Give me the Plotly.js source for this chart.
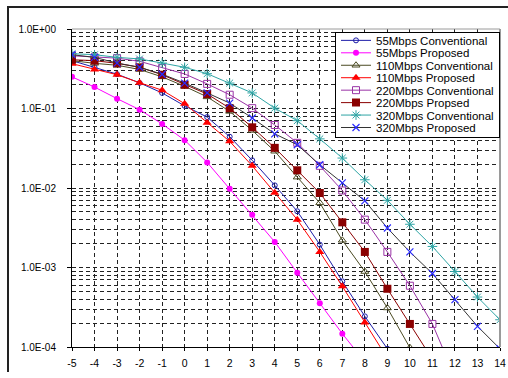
<!DOCTYPE html>
<html>
<head>
<meta charset="utf-8">
<script src="https://cdn.plot.ly/plotly-3.0.1.min.js"></script>
<style>
html,body{margin:0;padding:0;background:#fff;overflow:hidden;}
#wrap{position:relative;width:508px;height:378px;}
#chart{width:508px;height:378px;}
#frame{position:absolute;left:7px;top:6px;width:501px;height:364px;border-top:2px solid #222;border-left:2px solid #222;pointer-events:none;}
</style>
</head>
<body>
<div id="wrap"><div id="chart"></div><div id="frame"></div></div>
<script>
// SNR (dB) axis
var snr = [-5,-4,-3,-2,-1,0,1,2,3,4,5,6,7,8,9,10,11,12,13,14];
var snrLabels = ["-5","-4","-3","-2","-1","0","1","2","3","4","5","6","7","8","9","10","11","12","13","14"];

// Error rate per series
var s55c  = [0.40,0.33,0.27,0.21,0.157,0.108,0.078,0.0442,0.0223,0.0108,0.0051,0.00194,6.7e-4,2.43e-4,9.5e-5];
var s55p  = [0.25,0.186,0.133,0.0966,0.064,0.040,0.021,0.0098,0.0046,0.0021,8.6e-4,3.56e-4,1.47e-4,6.5e-5];
var s110c = [0.40,0.37,0.35,0.31,0.25,0.19,0.14,0.092,0.053,0.029,0.0137,0.0065,0.0022,8.9e-4,3.1e-4,9.8e-5];
var s110p = [0.366,0.31,0.266,0.211,0.17,0.115,0.066,0.0386,0.019,0.0087,0.004,0.00157,5.8e-4,2.04e-4,7.2e-5];
var s220c = [0.46,0.44,0.43,0.392,0.323,0.272,0.204,0.149,0.101,0.062,0.037,0.019,0.0093,0.0040,0.00157,5.9e-4,1.95e-4,4.2e-5];
var s220p = [0.41,0.40,0.37,0.33,0.266,0.199,0.152,0.101,0.058,0.032,0.0167,0.00865,0.0037,0.00157,5.4e-4,1.95e-4,7e-5];
var s320c = [0.489,0.475,0.44,0.42,0.373,0.33,0.274,0.209,0.157,0.101,0.0703,0.0415,0.0238,0.0127,0.007,0.0035,0.00184,8.9e-4,4.25e-4,2.2e-4];
var s320p = [0.475,0.44,0.373,0.33,0.27,0.209,0.157,0.117,0.076,0.048,0.035,0.0196,0.0116,0.0069,0.00314,0.00157,8.4e-4,3.94e-4,1.82e-4,9.5e-5];

var names = ["55Mbps Conventional","55Mbps Proposed","110Mbps Conventional","110Mbps Proposed",
             "220Mbps Conventional","220Mbps Propsed","320Mbps Conventional","320Mbps Proposed"];

var yTickVals = [1, 0.1, 0.01, 0.001, 0.0001];
var yTickText = ["1.0E+00","1.0E-01","1.0E-02","1.0E-03","1.0E-04"];

function tr(vals, name, lineColor, sym, size, mColor, mLineW){
  return {
    x: snr.slice(0, vals.length), y: vals, name: name, type: 'scatter', mode: 'lines+markers',
    line: {color: lineColor, width: 1},
    marker: {symbol: sym, size: size, color: mColor, line: {color: mColor, width: mLineW}}
  };
}

var traces = [
  tr(s55c,  names[0], '#1c1ca8', 'circle-open', 5, '#1c1ca8', 1),
  tr(s55p,  names[1], '#ff00ff', 'circle', 6, '#ff00ff', 0),
  tr(s110c, names[2], '#4a4a22', 'triangle-up-open', 7, '#4a4a22', 1),
  tr(s110p, names[3], '#ff0000', 'triangle-up', 8, '#ff0000', 0),
  tr(s220c, names[4], '#9a33a6', 'square-open', 7, '#9a33a6', 1),
  tr(s220p, names[5], '#8b0000', 'square', 8, '#8b0000', 0),
  tr(s320c, names[6], '#2fa5a5', 'asterisk-open', 8, '#2fa5a5', 1),
  tr(s320p, names[7], '#333333', 'x-thin-open', 7, '#2a2aff', 1.2)
];

var minorVals = [];
for (var e = -4; e < 0; e++) for (var m = 2; m <= 9; m++) minorVals.push(m * Math.pow(10, e));

var dash = '4px,3px';
var layout = {
  width: 508, height: 378,
  margin: {l: 72, r: 7.5, t: 29.3, b: 30.5},
  paper_bgcolor: 'rgba(0,0,0,0)', plot_bgcolor: '#fff',
  font: {family: 'Liberation Sans, Arial, sans-serif', size: 10, color: '#000'},
  showlegend: true,
  xaxis: {
    range: [-5, 14], tickmode: 'array', tickvals: snr, ticktext: snrLabels, ticks: 'outside', ticklen: 3,
    tickcolor: '#000', showline: true, linecolor: '#000', linewidth: 1,
    showgrid: true, gridcolor: '#222', griddash: dash, gridwidth: 1, zeroline: false,
    tickfont: {size: 10.5}, ticklabelstandoff: 3
  },
  yaxis: {
    type: 'log', range: [-4, 0], tickmode: 'array', tickvals: yTickVals, ticktext: yTickText,
    ticks: 'outside', ticklen: 4, tickcolor: '#000', showline: true, linecolor: '#000', linewidth: 1,
    showgrid: true, gridcolor: '#222', griddash: dash, gridwidth: 1, zeroline: false,
    ticklabelstandoff: 9,
    minor: {tickmode: 'array', tickvals: minorVals, showgrid: true, gridcolor: '#222', griddash: dash, gridwidth: 1, ticks: ''}
  },
  legend: {
    x: 1, xanchor: 'right', y: 0.991, yanchor: 'top',
    bgcolor: '#fff', bordercolor: '#000', borderwidth: 1,
    font: {size: 11.5, family: 'Liberation Sans, Arial, sans-serif'},
    itemwidth: 30
  },
  shapes: [
    {type: 'line', xref: 'paper', yref: 'paper', x0: 1, x1: 1, y0: 0, y1: 1, line: {color: '#9a9a9a', width: 2}},
    {type: 'line', xref: 'paper', yref: 'paper', x0: 0, x1: 1, y0: 1, y1: 1, line: {color: '#9a9a9a', width: 1}}
  ]
};

Plotly.newPlot('chart', traces, layout, {staticPlot: true, displayModeBar: false}).then(function(gd){
  // tighten legend row spacing to match the compact reference legend
  var items = gd.querySelectorAll('.legend .traces');
  var spacing = 12.45, top = 8.5;
  items.forEach(function(el, i){
    var t = el.getAttribute('transform') || '';
    var mm = /translate\(([-\d.]+)[ ,]*([-\d.]+)?\)/.exec(t);
    var x = mm ? parseFloat(mm[1]) : 1;
    el.setAttribute('transform', 'translate(' + x + ',' + (top + i * spacing) + ')');
  });
  var bg = gd.querySelector('.legend .bg');
  if (bg) bg.setAttribute('height', (top + (items.length - 1) * spacing + 10).toFixed(1));
});
</script>
</body>
</html>
